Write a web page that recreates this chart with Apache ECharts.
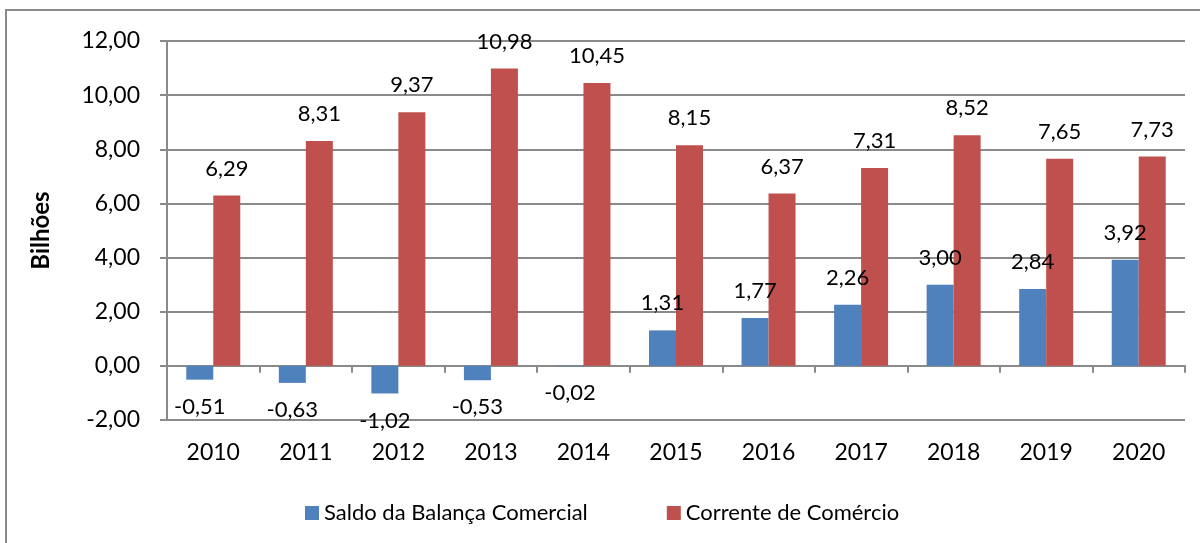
<!DOCTYPE html>
<html>
<head>
<meta charset="utf-8">
<script src="https://cdn.jsdelivr.net/npm/echarts@6/dist/echarts.min.js"></script>
<style>
  html, body { margin: 0; padding: 0; background: #fff; }
  #main { width: 1200px; height: 543px; }
</style>
</head>
<body>
<div id="main"></div>
<script>
const anos = ['2010', '2011', '2012', '2013', '2014', '2015', '2016', '2017', '2018', '2019', '2020']
const saldo = [-0.51, -0.63, -1.02, -0.53, -0.02, 1.31, 1.77, 2.26, 3.00, 2.84, 3.92]
const corrente = [6.29, 8.31, 9.37, 10.98, 10.45, 8.15, 6.37, 7.31, 8.52, 7.65, 7.73]

const fonte = 'Lato, "Open Sans", sans-serif'
const fmt = v => v.toFixed(2).replace('.', ',')

// rotulos abaixo da barra quando o valor e negativo
function comRotulo(vals) {
    return vals.map(v => ({
        value: v,
        label: { position: v < 0 ? 'bottom' : 'top' }
    }))
}

const myChart = echarts.init(document.getElementById('main'))

myChart.setOption({
    animation: false,
    textStyle: { fontFamily: fonte },
    graphic: [{
        type: 'rect',
        shape: { x: 6, y: 10, width: 1300, height: 600 },
        style: { fill: 'none', stroke: '#8a8a8a', lineWidth: 2 }
    }],
    grid: { left: 167, right: 15, top: 41, bottom: 123 },
    legend: {
        left: 300,
        top: 497,
        itemWidth: 14,
        itemHeight: 14,
        itemGap: 79,
        icon: 'rect',
        textStyle: { fontSize: 22, color: '#000', fontFamily: fonte },
        data: ['Saldo da Balança Comercial', 'Corrente de Comércio']
    },
    xAxis: [{
        type: 'category',
        data: anos,
        axisLine: { onZero: true, lineStyle: { color: '#8a8a8a', width: 2 } },
        axisTick: { show: true, length: 7, lineStyle: { color: '#8a8a8a', width: 2 } },
        axisLabel: { show: false }
    }, {
        type: 'category',
        data: anos,
        position: 'bottom',
        axisLine: { show: false },
        axisTick: { show: false },
        axisLabel: { color: '#000', fontSize: 23, margin: 21, fontFamily: fonte }
    }],
    yAxis: {
        type: 'value',
        name: 'Bilhões',
        nameLocation: 'middle',
        nameGap: 114,
        nameRotate: 90,
        nameTextStyle: { fontSize: 24, fontWeight: 'bold', color: '#000', fontFamily: fonte },
        min: -2,
        max: 12,
        interval: 2,
        axisLine: { show: true, lineStyle: { color: '#8a8a8a', width: 2 } },
        axisTick: { show: true, length: 7, lineStyle: { color: '#8a8a8a', width: 2 } },
        splitLine: { lineStyle: { color: '#8a8a8a', width: 2 } },
        axisLabel: { color: '#000', fontSize: 23, margin: 27, formatter: fmt, fontFamily: fonte }
    },
    series: [{
        name: 'Saldo da Balança Comercial',
        type: 'bar',
        barWidth: 27,
        barGap: 0,
        itemStyle: { color: '#4f81bd' },
        label: { show: true, fontSize: 22, color: '#000', distance: 16, fontFamily: fonte, formatter: p => fmt(p.value) },
        data: comRotulo(saldo)
    }, {
        name: 'Corrente de Comércio',
        type: 'bar',
        barWidth: 27,
        barGap: 0,
        itemStyle: { color: '#c0504d' },
        label: { show: true, position: 'top', fontSize: 22, color: '#000', distance: 16, fontFamily: fonte, formatter: p => fmt(p.value) },
        data: corrente
    }]
})
</script>
</body>
</html>
